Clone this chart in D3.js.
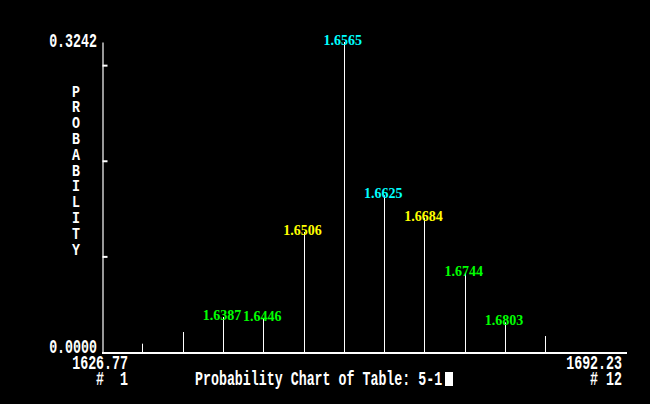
<!DOCTYPE html>
<html>
<head>
<meta charset="utf-8">
<script src="https://cdn.jsdelivr.net/npm/d3@7/dist/d3.min.js"></script>
<style>
  html, body { margin: 0; padding: 0; background: #000; }
  svg { display: block; }
  text { white-space: pre; }
</style>
</head>
<body>
<svg id="chart" width="650" height="404"></svg>
<script>
// ---- data ----
const categories = [1, 2, 3, 4, 5, 6, 7, 8, 9, 10, 11, 12];
const probabilities = [0.0087, 0.0209, 0.0366, 0.0355, 0.1255, 0.3242, 0.164, 0.140, 0.0826, 0.031, 0.0167, 0];
const valueLabels = [null, null, "1.6387", "1.6446", "1.6506", "1.6565", "1.6625", "1.6684", "1.6744", "1.6803", null, null];
const labelColors = [null, null, "#00ff00", "#00ff00", "#ffff00", "#00ffff", "#00ffff", "#ffff00", "#00ff00", "#00ff00", null, null];
const yTicks = [0.1, 0.2, 0.3];
const yMaxLabel = "0.3242";
const yMinLabel = "0.0000";
const xMinLabel = "1626.77";
const xMaxLabel = "1692.23";
const yTitle = "PROBABILITY";
const title = "Probability Chart of Table: 5-1";

// ---- layout ----
const svg = d3.select("#chart");
const x0 = 102, x1 = 626, yTop = 42, yBase = 352;
const x = d3.scaleLinear().domain([0, 13]).range([x0, x1]);
const y = d3.scaleLinear().domain([0, 0.3242]).range([yBase, yTop]);

const mono = "'Liberation Mono', 'DejaVu Sans Mono', monospace";
const SY = 1.5;
function monoText(px, py, str, anchor, sy) {
  return svg.append("text")
    .attr("transform", `translate(${px},${py}) scale(1,${sy || SY})`)
    .attr("text-anchor", anchor || "start")
    .attr("font-family", mono)
    .attr("font-weight", "bold")
    .attr("font-size", 13.3)
    .attr("fill", "#fff")
    .text(str);
}

// y axis
const yAxis = d3.axisRight(y).tickValues(yTicks).tickSize(5).tickSizeOuter(0).tickFormat("");
const gy = svg.append("g").attr("transform", `translate(${x0 + 0.5},0)`).call(yAxis);
gy.select(".domain").attr("stroke", "#fff").attr("stroke-width", 1.2);
gy.selectAll(".tick line").attr("stroke", "#fff").attr("stroke-width", 2);

// baseline
svg.append("rect").attr("x", x0).attr("y", yBase).attr("width", x1 - x0 + 1).attr("height", 2).attr("fill", "#fff");

// bars
svg.selectAll("line.bar").data(categories.map((c, i) => ({ c, v: probabilities[i] })).filter(d => d.v > 0))
  .enter().append("line")
  .attr("class", "bar")
  .attr("x1", d => Math.round(x(d.c)) + 0.5).attr("x2", d => Math.round(x(d.c)) + 0.5)
  .attr("y1", d => y(d.v)).attr("y2", yBase)
  .attr("stroke", "#fff").attr("stroke-width", 1);

// value labels
svg.selectAll("text.vl").data(categories.map((c, i) => ({ c, v: probabilities[i], t: valueLabels[i], col: labelColors[i] })).filter(d => d.t))
  .enter().append("text")
  .attr("class", "vl")
  .attr("x", d => x(d.c) - 1)
  .attr("y", d => y(d.v) + 3)
  .attr("text-anchor", "middle")
  .attr("font-family", "'Liberation Serif', 'DejaVu Serif', serif")
  .attr("font-weight", "bold")
  .attr("font-size", 14)
  .attr("fill", d => d.col)
  .text(d => d.t);

// axis texts
monoText(97, 47, yMaxLabel, "end");
monoText(97, 353, yMinLabel, "end");
monoText(128, 369, xMinLabel, "end");
monoText(128, 385, "#  " + categories[0], "end");
monoText(622, 369, xMaxLabel, "end");
monoText(622, 385, "# " + categories[categories.length - 1], "end");
monoText(195, 385, title, "start");
// cursor block
svg.append("rect").attr("x", 445).attr("y", 372).attr("width", 8).attr("height", 14).attr("fill", "#fff");

// vertical y title: one text, upright letters stacked
const vsy = 1.3;
const vt = svg.append("text")
  .attr("transform", `translate(76,82) scale(1,${vsy})`)
  .attr("font-family", mono)
  .attr("font-weight", "bold")
  .attr("font-size", 13.3)
  .attr("fill", "#fff")
  .style("writing-mode", "vertical-rl")
  .style("text-orientation", "upright")
  .attr("x", 0).attr("y", 0)
  .text(yTitle);
const natural = vt.node().getComputedTextLength() / yTitle.length;
const targetStep = 15.8 / vsy;
vt.style("letter-spacing", (targetStep - natural) + "px");
</script>
</body>
</html>
